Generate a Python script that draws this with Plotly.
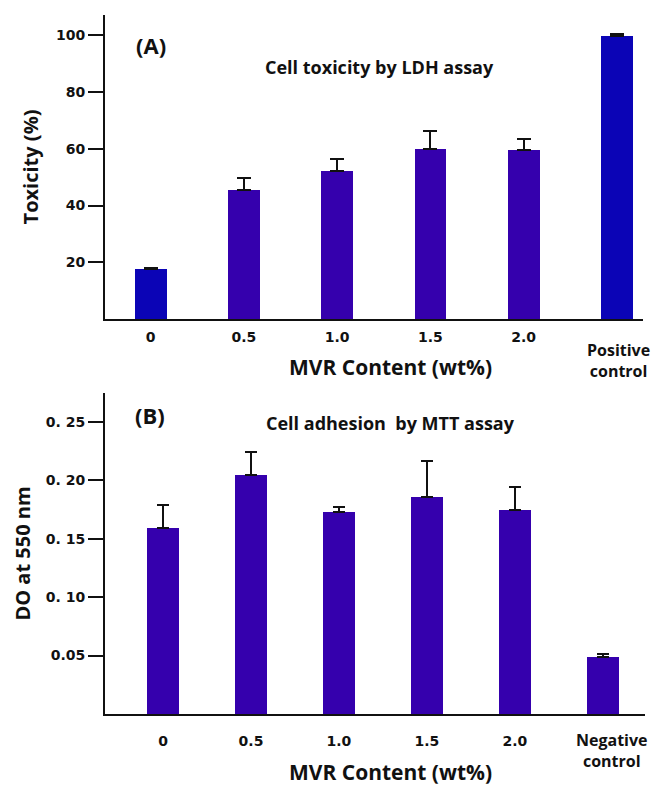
import plotly.graph_objects as go

# Panel A: cytotoxicity (LDH release)
tox_categories = ["0", "0.5", "1.0", "1.5", "2.0", "Positive control"]
tox_values = [17.5, 45.6, 52.3, 60.0, 59.6, 99.7]
tox_errors = [0.4, 4.2, 4.2, 6.3, 3.9, 0.8]

# Panel B: cell adhesion (MTT)
adh_categories = ["0", "0.5", "1.0", "1.5", "2.0", "Negative control"]
adh_values = [0.159, 0.205, 0.173, 0.186, 0.175, 0.049]
adh_errors = [0.020, 0.019, 0.004, 0.031, 0.019, 0.002]

tox_ticks = [20, 40, 60, 80, 100]
tox_ticktext = ["20", "40", "60", "80", "100"]
adh_ticks = [0.05, 0.10, 0.15, 0.20, 0.25]
adh_ticktext = ["0.05", "0. 10", "0. 15", "0. 20", "0. 25"]

BLUE = "#0b04b6"
VIOLET = "#3500ad"
INK = "#111111"
W, H = 661, 785
TICK_FONT = dict(family="DejaVu Sans", size=14, color=INK, weight="bold")
TITLE_FONT = dict(family="Open Sans", size=20, color=INK, weight="bold")
XTITLE_FONT = dict(family="Open Sans", size=21, color=INK, weight="bold")
LABEL_FONT = dict(family="Open Sans", size=16, color=INK, weight="bold")


def px_x(v):
    return v / W


def px_y(v):
    return 1 - v / H


tox_colors = [BLUE, VIOLET, VIOLET, VIOLET, VIOLET, BLUE]
adh_colors = [VIOLET] * len(adh_values)

fig = go.Figure()

fig.add_trace(go.Bar(
    x=tox_categories, y=tox_values,
    marker=dict(color=tox_colors, line=dict(width=0)),
    width=0.34,
    error_y=dict(type="data", array=tox_errors, arrayminus=[0] * len(tox_errors),
                 symmetric=False, color=INK, thickness=2, width=7),
    xaxis="x", yaxis="y", showlegend=False,
))

fig.add_trace(go.Bar(
    x=adh_categories, y=adh_values,
    marker=dict(color=adh_colors, line=dict(width=0)),
    width=0.36,
    error_y=dict(type="data", array=adh_errors, arrayminus=[0] * len(adh_errors),
                 symmetric=False, color=INK, thickness=2, width=6),
    xaxis="x2", yaxis="y2", showlegend=False,
))

axis_common = dict(showgrid=False, zeroline=False, showline=True,
                   linecolor=INK, linewidth=2)

# The control categories are labelled separately (two lines, set lower)
tox_xtext = tox_categories[:-1] + [""]
adh_xtext = adh_categories[:-1] + [""]

fig.update_layout(
    width=W, height=H,
    margin=dict(l=0, r=0, t=0, b=0),
    paper_bgcolor="white", plot_bgcolor="white",
    xaxis=dict(domain=[px_x(105), px_x(643)], anchor="y",
               range=[-0.49, 5.28], ticks="", tickfont=TICK_FONT,
               tickvals=tox_categories, ticktext=tox_xtext,
               ticklabelstandoff=4, **axis_common),
    yaxis=dict(domain=[px_y(319), px_y(15)], anchor="x",
               range=[0, 107.2], tickvals=tox_ticks, ticktext=tox_ticktext,
               ticks="outside", ticklen=15, tickwidth=2, tickcolor=INK,
               tickfont=TICK_FONT,
               title=dict(text="Toxicity (%)", font=TITLE_FONT, standoff=12),
               **axis_common),
    xaxis2=dict(domain=[px_x(105), px_x(645)], anchor="y2",
                range=[-0.66, 5.48], ticks="", tickfont=TICK_FONT,
                tickvals=adh_categories, ticktext=adh_xtext,
                ticklabelstandoff=13, **axis_common),
    yaxis2=dict(domain=[px_y(714), px_y(393)], anchor="x2",
                range=[0, 0.2748], tickvals=adh_ticks, ticktext=adh_ticktext,
                ticks="outside", ticklen=15, tickwidth=2, tickcolor=INK,
                tickfont=TICK_FONT,
                title=dict(text="DO at 550 nm", font=TITLE_FONT, standoff=10),
                **axis_common),
    bargap=0,
)

annotations = [
    dict(text="(A)", x=px_x(151), y=px_y(45),
         font=dict(family="Open Sans", size=22, weight="bold")),
    dict(text="Cell toxicity by LDH assay", x=px_x(380), y=px_y(67),
         font=dict(family="Open Sans", size=18, weight="bold")),
    dict(text="MVR Content (wt%)", x=px_x(390), y=px_y(367), font=XTITLE_FONT),
    dict(text="(B)", x=px_x(150), y=px_y(415),
         font=dict(family="Open Sans", size=22, weight="bold")),
    dict(text="Cell adhesion  by MTT assay", x=px_x(390), y=px_y(423),
         font=dict(family="Open Sans", size=18, weight="bold")),
    dict(text="MVR Content (wt%)", x=px_x(390), y=px_y(772), font=XTITLE_FONT),
]
for a in annotations:
    a["font"].setdefault("color", INK)
    fig.add_annotation(xref="paper", yref="paper", showarrow=False,
                       xanchor="center", yanchor="middle", **a)

# Two-line control labels under the last bar of each panel
fig.add_annotation(xref="x", yref="paper", x=tox_categories[-1], y=px_y(360),
                   text=tox_categories[-1].replace(" ", "<br>"), showarrow=False,
                   xanchor="center", yanchor="middle", xshift=2,
                   font=LABEL_FONT, align="center")
fig.add_annotation(xref="x2", yref="paper", x=adh_categories[-1], y=px_y(750),
                   text=adh_categories[-1].replace(" ", "<br>"), showarrow=False,
                   xanchor="center", yanchor="middle", xshift=9,
                   font=LABEL_FONT, align="center")

fig.write_html("out.html")
